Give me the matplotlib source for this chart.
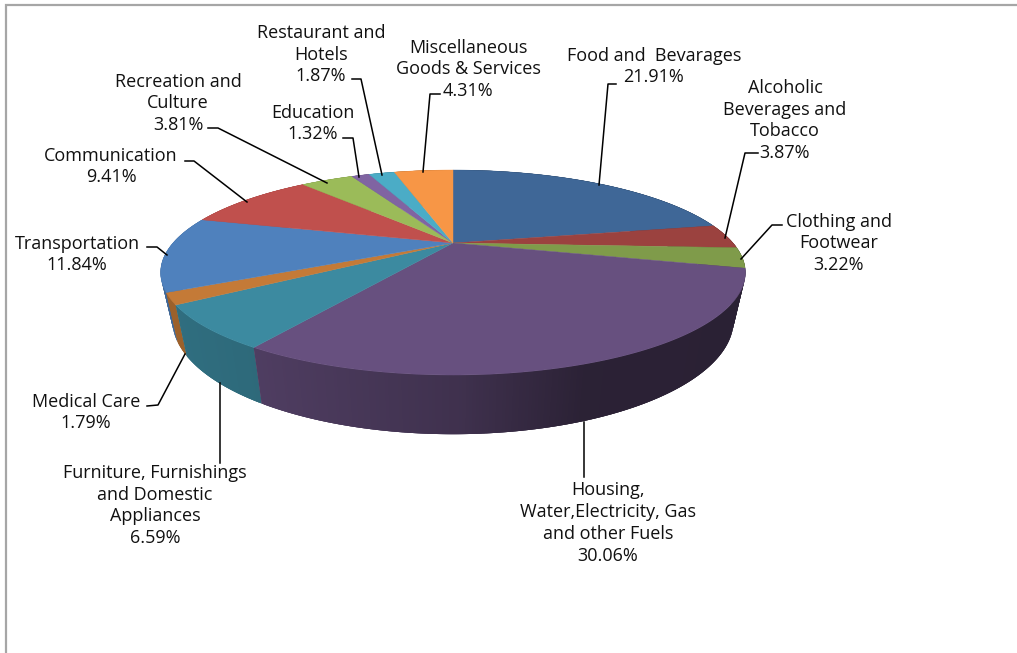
import matplotlib
matplotlib.use("Agg")
import matplotlib.pyplot as plt
import numpy as np
from matplotlib.collections import PolyCollection

# CPI weights by expenditure group, clockwise from twelve o'clock
categories = [
    "Food and  Bevarages",
    "Alcoholic\nBeverages and\nTobacco",
    "Clothing and\nFootwear",
    "Housing,\nWater,Electricity, Gas\nand other Fuels",
    "Furniture, Furnishings\nand Domestic\nAppliances",
    "Medical Care",
    "Transportation",
    "Communication",
    "Recreation and\nCulture",
    "Education",
    "Restaurant and\nHotels",
    "Miscellaneous\nGoods & Services",
]
weights = [21.91, 3.87, 3.22, 30.06, 6.59, 1.79, 11.84, 9.41, 3.81, 1.32, 1.87, 4.31]
top_colors = ["#3f6797", "#9b423f", "#7f9b4a", "#67507f", "#3c8aa0", "#c47a37",
              "#4f81bd", "#c0504d", "#9bbb59", "#8064a2", "#4bacc6", "#f79646"]
label_x = [654, 785, 839, 608, 155, 86, 77, 111, 178, 313, 321, 468]
label_y = [66.5, 120.5, 243.5, 523, 505.5, 412.5, 254.5, 166.5, 103.5, 123.5, 54.5, 69.5]
leaders = [
    [(616, 84), (608, 84), (599, 185)],
    [(758, 153), (745, 153), (725, 238)],
    [(782, 225), (772, 225), (741, 259)],
    [(584, 422), (584, 477)],
    [(220, 383), (220, 463)],
    [(147, 406), (158, 405), (185, 354)],
    [(147, 247), (157, 247), (167, 255)],
    [(185, 161), (194, 161), (247, 202)],
    [(208, 128), (218, 128), (327, 183)],
    [(343, 138), (353, 138), (359, 177)],
    [(352, 79), (361, 79), (382, 175)],
    [(440, 94), (430, 94), (423, 172)],
]

# pie geometry, in pixels
cx, cy = 453, 243
radius, depth, tilt = 280, 94, 0.288
wall_x, wall_y, wall_drop = 0.96, 1.115, 44


def project(angle):
    # angle in degrees clockwise from the top of the pie
    a = np.radians(angle)
    x, y = np.sin(a), np.cos(a)
    den = 1 + tilt * y
    return radius * x / den, -depth * y / den


def wall_quad(a0, a1):
    x0, y0 = project(a0)
    x1, y1 = project(a1)
    return [
        (cx + x0, cy + y0), (cx + x1, cy + y1),
        (cx + wall_x * x1, cy + wall_drop + wall_y * y1),
        (cx + wall_x * x0, cy + wall_drop + wall_y * y0),
    ]


def darken(color, factor):
    return tuple(c * factor for c in matplotlib.colors.to_rgb(color))


def wall_shade(x):
    return np.interp(x, [-290, -190, 0, 130, 290], [0.80, 0.76, 0.62, 0.42, 0.41])


fig = plt.figure(figsize=(10.17, 6.53), dpi=100)
ax = fig.add_axes([0, 0, 1, 1])
ax.set_xlim(0, 1017)
ax.set_ylim(653, 0)
ax.axis("off")

# outer chart border, only the top and left edges are in view
ax.plot([6, 6, 1017], [653, 4.5, 4.5], color="#a6a6a6", lw=1.6, solid_joinstyle="miter")

edges = np.concatenate([[0], np.cumsum(weights)]) * 3.6

# side wall: small overlapping strips, back to front, so no seams show
quads, quad_colors, quad_depth = [], [], []
step = 0.5
for i, color in enumerate(top_colors):
    n = max(int((edges[i + 1] - edges[i]) / step), 2)
    steps = np.linspace(edges[i], edges[i + 1], n + 1)
    for a0, a1 in zip(steps[:-1], steps[1:]):
        x0, y0 = project(a0)
        x1, y1 = project(a1)
        quads.append(wall_quad(max(a0 - step, edges[i]), min(a1 + step, edges[i + 1])))
        quad_colors.append(darken(color, wall_shade((x0 + x1) / 2)))
        quad_depth.append((y0 + y1) / 2)

order = np.argsort(quad_depth)
walls = PolyCollection([quads[j] for j in order], facecolors=[quad_colors[j] for j in order],
                       linewidths=0, zorder=2)
ax.add_collection(walls)

# top face
for i, color in enumerate(top_colors):
    angles = np.linspace(edges[i], edges[i + 1], 120)
    xs, ys = project(angles)
    ax.fill(np.r_[cx, cx + xs], np.r_[cy, cy + ys], facecolor=color, edgecolor=color,
            lw=0.3, zorder=3)

# labels and leader lines
for name, value, x, y in zip(categories, weights, label_x, label_y):
    ax.text(x, y, f"{name}\n{value:.2f}%", ha="center", va="center", fontsize=13,
            family="Open Sans", color="#111111", linespacing=1.28, zorder=5)
for path in leaders:
    xs, ys = zip(*path)
    ax.plot(xs, ys, color="black", lw=1.1, zorder=4)

fig.savefig("out.png", dpi=100)
